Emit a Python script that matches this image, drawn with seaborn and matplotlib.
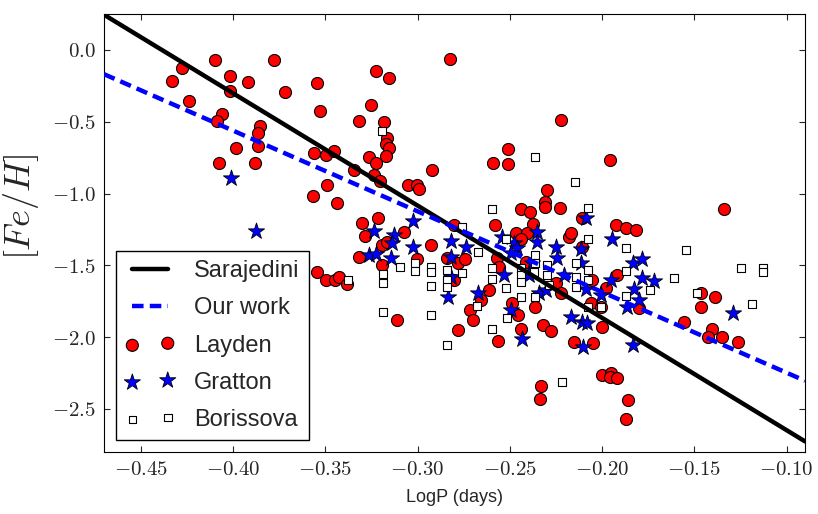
import pandas as pd
import numpy as np
import matplotlib
matplotlib.use("Agg")
import matplotlib.pyplot as plt
from matplotlib.ticker import FuncFormatter
import seaborn as sns

line_x = [-0.47, -0.09]
sarajedini_y = [0.245, -2.726]
ourwork_y = [-0.169, -2.304]

# Layden (red circles)
layden_x = [-0.4277, -0.4332, -0.4240, -0.4098, -0.4018, -0.3918, -0.4018, -0.3777, -0.3717, -0.3545,
            -0.3527, -0.4058, -0.4089, -0.3855, -0.3866, -0.3866, -0.3987, -0.4078, -0.3879, -0.3564,
            -0.3495, -0.3489, -0.3565, -0.3223, -0.3154, -0.2822, -0.3255, -0.3315, -0.3183, -0.3165,
            -0.3172, -0.3154, -0.3172, -0.3455, -0.3265, -0.3223, -0.3344, -0.3234, -0.3203, -0.3435,
            -0.3054, -0.3005, -0.2993, -0.2922, -0.2221, -0.2511, -0.2592, -0.2511, -0.2301, -0.2310,
            -0.2310, -0.2230, -0.2442, -0.2392, -0.1958, -0.1337, -0.3303, -0.3216, -0.3284, -0.3076,
            -0.3194, -0.3167, -0.2926, -0.3315, -0.3194, -0.3004, -0.3545, -0.3496, -0.3446, -0.3425,
            -0.3382, -0.3113, -0.2804, -0.2578, -0.2376, -0.2466, -0.2406, -0.2442, -0.2179, -0.2841,
            -0.2781, -0.2741, -0.2569, -0.2560, -0.2415, -0.2804, -0.2614, -0.2659, -0.2488, -0.2364,
            -0.2714, -0.2455, -0.2781, -0.1925, -0.1871, -0.1817, -0.2170, -0.2107, -0.2107, -0.2053,
            -0.1980, -0.1917, -0.2062, -0.2007, -0.1799, -0.1554, -0.1464, -0.1464, -0.1998, -0.1387,
            -0.1406, -0.1428, -0.1350, -0.1265, -0.2563, -0.2440, -0.2321, -0.2279, -0.2330, -0.2339,
            -0.2152, -0.2047, -0.1998, -0.1953, -0.1958, -0.1917, -0.1859, -0.1870, -0.2252, -0.2225,
            -0.2700]
layden_y = [-0.125, -0.214, -0.353, -0.072, -0.183, -0.223, -0.286, -0.072, -0.293, -0.232,
            -0.423, -0.444, -0.497, -0.532, -0.576, -0.667, -0.685, -0.785, -0.785, -0.716,
            -0.730, -0.939, -1.017, -0.144, -0.193, -0.063, -0.383, -0.495, -0.504, -0.615,
            -0.657, -0.685, -0.739, -0.706, -0.748, -0.787, -0.838, -0.869, -0.911, -1.068,
            -0.939, -0.943, -0.969, -0.836, -0.486, -0.688, -0.787, -0.797, -0.978, -1.059,
            -1.094, -1.099, -1.110, -1.129, -0.767, -1.106, -1.203, -1.171, -1.296, -1.270,
            -1.359, -1.336, -1.359, -1.440, -1.498, -1.459, -1.549, -1.603, -1.603, -1.580,
            -1.633, -1.882, -1.220, -1.220, -1.213, -1.277, -1.277, -1.319, -1.301, -1.452,
            -1.487, -1.459, -1.452, -1.510, -1.475, -1.603, -1.672, -1.742, -1.765, -1.789,
            -1.812, -1.847, -1.950, -1.220, -1.243, -1.254, -1.277, -1.173, -1.371, -1.603,
            -1.661, -1.568, -1.765, -1.789, -1.800, -1.893, -1.695, -1.793, -1.928, -1.723,
            -1.942, -2.002, -2.002, -2.037, -2.026, -1.946, -1.916, -1.956, -2.337, -2.430,
            -2.033, -2.040, -2.265, -2.253, -2.281, -2.288, -2.439, -2.569, -1.626, -1.695,
            -1.880]

# Gratton (blue stars)
gratton_x = [-0.4009, -0.3875, -0.3238, -0.3027, -0.3130, -0.3140, -0.3025, -0.3266, -0.3227, -0.3143,
             -0.2817, -0.2735, -0.2817, -0.2817, -0.2835, -0.2672, -0.2533, -0.2496, -0.2542, -0.2478,
             -0.2460, -0.2496, -0.2351, -0.2351, -0.2379, -0.2397, -0.2342, -0.2306, -0.2243, -0.2207,
             -0.2252, -0.2089, -0.1945, -0.2112, -0.2112, -0.1835, -0.1786, -0.1953, -0.1786, -0.1721,
             -0.1826, -0.2089, -0.2004, -0.1799, -0.1866, -0.2170, -0.2107, -0.2080, -0.1292, -0.2433,
             -0.2102, -0.1832]
gratton_y = [-0.890, -1.261, -1.261, -1.190, -1.289, -1.343, -1.371, -1.429, -1.422, -1.452,
             -1.329, -1.371, -1.445, -1.584, -1.719, -1.691, -1.568, -1.812, -1.301, -1.347,
             -1.382, -1.417, -1.266, -1.336, -1.487, -1.568, -1.695, -1.672, -1.452, -1.568,
             -1.371, -1.173, -1.319, -1.389, -1.482, -1.487, -1.459, -1.603, -1.591, -1.610,
             -1.668, -1.668, -1.707, -1.742, -1.789, -1.858, -1.893, -1.905, -1.835, -2.016,
             -2.068, -2.056]

# Borissova (open squares)
borissova_x = [-0.3192, -0.2366, -0.2147, -0.2074, -0.3375, -0.3190, -0.3190, -0.3098, -0.3012, -0.3012,
               -0.2926, -0.2926, -0.2926, -0.3190, -0.2926, -0.2759, -0.2672, -0.2523, -0.2364, -0.2841,
               -0.2841, -0.2841, -0.2759, -0.2596, -0.2596, -0.2520, -0.2442, -0.2442, -0.2442, -0.2442,
               -0.2370, -0.2364, -0.2297, -0.2297, -0.2288, -0.2361, -0.2678, -0.2515, -0.2596, -0.2076,
               -0.1871, -0.1545, -0.2143, -0.2076, -0.2143, -0.2076, -0.2143, -0.1871, -0.1609, -0.1739,
               -0.1871, -0.2076, -0.2007, -0.1486, -0.1246, -0.1129, -0.1129, -0.1189, -0.2841, -0.2596,
               -0.2219]
borissova_y = [-0.564, -0.748, -0.920, -1.099, -1.603, -1.561, -1.621, -1.510, -1.487, -1.538,
               -1.510, -1.545, -1.645, -1.823, -1.847, -1.231, -1.410, -1.319, -1.429, -1.533,
               -1.603, -1.649, -1.552, -1.521, -1.598, -1.661, -1.521, -1.568, -1.615, -1.719,
               -1.545, -1.487, -1.498, -1.568, -1.638, -1.719, -1.784, -1.870, -1.110, -1.319,
               -1.382, -1.394, -1.487, -1.533, -1.584, -1.603, -1.654, -1.538, -1.591, -1.672,
               -1.714, -1.793, -1.793, -1.691, -1.521, -1.521, -1.545, -1.772, -2.056, -1.946,
               -2.316]

lines = pd.DataFrame({"logp": line_x + line_x,
                      "feh": sarajedini_y + ourwork_y,
                      "fit": ["Sarajedini"] * 2 + ["Our work"] * 2})
layden = pd.DataFrame({"logp": layden_x, "feh": layden_y})
gratton = pd.DataFrame({"logp": gratton_x, "feh": gratton_y})
borissova = pd.DataFrame({"logp": borissova_x, "feh": borissova_y})

sns.set_style("white", {"xtick.direction": "in", "ytick.direction": "in",
                        "xtick.top": True, "ytick.right": True,
                        "xtick.bottom": True, "ytick.left": True,
                        "axes.edgecolor": "black", "axes.linewidth": 1.0})
plt.rcParams["font.family"] = ["Liberation Sans", "DejaVu Sans"]
plt.rcParams["mathtext.fontset"] = "cm"
plt.rcParams["xtick.major.size"] = 4.5
plt.rcParams["ytick.major.size"] = 4.5

fig, ax = plt.subplots(figsize=(8.18, 5.14), dpi=100)
fig.subplots_adjust(left=104 / 818, right=805 / 818, top=1 - 14 / 514, bottom=1 - 452 / 514)

sns.lineplot(data=lines[lines.fit == "Sarajedini"], x="logp", y="feh", color="black",
             linewidth=3.2, label="Sarajedini", ax=ax, zorder=4)
sns.lineplot(data=lines[lines.fit == "Our work"], x="logp", y="feh", color="#0000ff",
             linewidth=3.2, dashes=False, label="Our work", ax=ax, zorder=4)
ax.lines[-1].set_dashes((2.6, 1.4))

sns.scatterplot(data=layden, x="logp", y="feh", color="red", edgecolor="black",
                linewidth=0.8, s=75, marker="o", label="Layden", ax=ax, zorder=2)
sns.scatterplot(data=gratton, x="logp", y="feh", color="#0000ff", edgecolor="black",
                linewidth=0.6, s=150, marker="*", label="Gratton", ax=ax, zorder=2.5)
sns.scatterplot(data=borissova, x="logp", y="feh", color="white", edgecolor="black",
                linewidth=0.8, s=30, marker="s", label="Borissova", ax=ax, zorder=3)

ax.set_xlim(-0.47, -0.09)
ax.set_ylim(-2.8, 0.25)
ax.set_xticks(np.arange(-0.45, -0.09, 0.05))
ax.set_yticks([0.0, -0.5, -1.0, -1.5, -2.0, -2.5])
ax.xaxis.set_major_formatter(FuncFormatter(lambda v, p: f"${v:.2f}$"))
ax.yaxis.set_major_formatter(FuncFormatter(lambda v, p: f"${v:.1f}$"))
ax.tick_params(labelsize=15, pad=6)

ax.set_xlabel("LogP (days)", fontsize=13, labelpad=7)
ax.set_ylabel(r"$[Fe/H]$", fontsize=26)
ax.yaxis.set_label_coords(-0.09, 0.56)

ax.legend(loc="lower left", numpoints=2, scatterpoints=2, fancybox=False,
          edgecolor="black", framealpha=1, fontsize=17, handlelength=2.1,
          borderaxespad=0.5, labelspacing=0.64)

plt.savefig("out.png", dpi=100)
